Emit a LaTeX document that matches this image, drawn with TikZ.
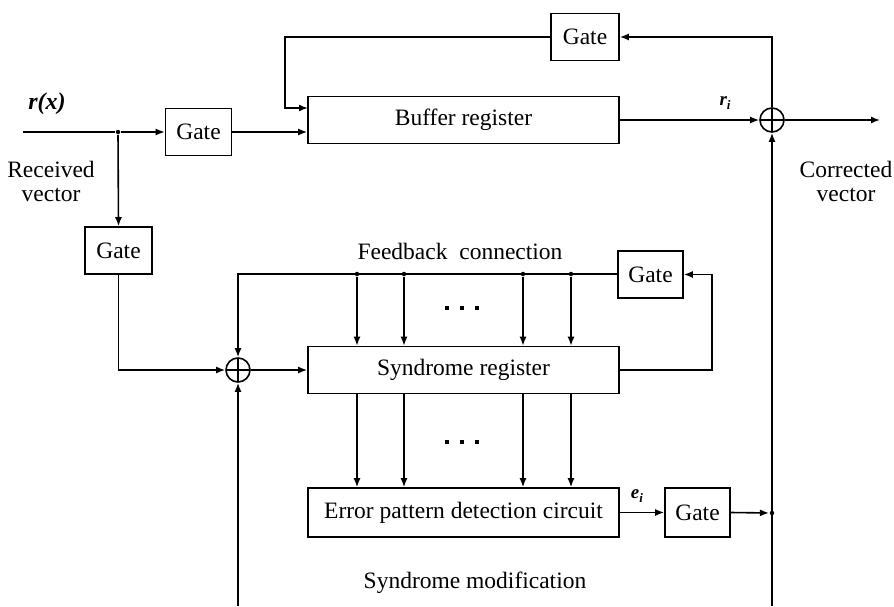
\documentclass[tikz,border=0pt]{standalone}
\usepackage{fontspec}
\setmainfont{Liberation Serif}
\usetikzlibrary{arrows.meta}
\begin{document}
\begin{tikzpicture}[x=1pt,y=-1pt,
  font=\fontsize{23.5}{27}\selectfont,
  line width=1.6pt,
  >={Latex[length=9pt,width=7pt]},
  box/.style={draw,rectangle,inner sep=0pt,minimum height=47pt},
  gatebox/.style={box,minimum width=66pt},
  regbox/.style={box,minimum width=311pt},
  adder/.style={draw,circle,minimum size=24pt,inner sep=0pt,
    path picture={\draw[line width=1.3pt]
      (path picture bounding box.north) -- (path picture bounding box.south)
      (path picture bounding box.west) -- (path picture bounding box.east);}},
  joint/.style={circle,fill,inner sep=0pt,minimum size=4.5pt},
  lbl/.style={inner sep=1pt},
  sym/.style={font=\fontsize{24}{26}\selectfont\bfseries\itshape},
  subsym/.style={font=\fontsize{19}{22}\selectfont\bfseries\itshape}]
\useasboundingbox (0,0) rectangle (894,606);

% blocks
\node[gatebox] (gin)  at (198.5,132) {Gate};
\node[regbox]  (buf)  at (463.5,120) {Buffer register};
\node[gatebox,minimum width=68pt] (gtop) at (585,37) {Gate};
\node[adder]   (xa)   at (772,120) {};
\node[gatebox,minimum width=67pt] (gl) at (118.5,250.5) {Gate};
\node[adder]   (xb)   at (238,370) {};
\node[regbox]  (syn)  at (463.5,370) {Syndrome register};
\node[gatebox,minimum width=65pt] (gf) at (650.5,274.5) {Gate};
\node[regbox,minimum height=49pt] (err) at (463.5,512.5) {Error pattern detection circuit};
\node[gatebox,minimum width=65pt,minimum height=49pt] (ge) at (697.5,512.5) {Gate};

% free ends and joints
\coordinate (in) at (23,132);
\node[joint] (j1) at (118,132) {};
\coordinate (out) at (880,120);
\coordinate (topl) at (285,37);
\coordinate (bufin) at (308,108);
\coordinate (fbl) at (238,274);
\coordinate (synr) at (712,370);
\node[joint] (je) at (772,513) {};
\coordinate (botA) at (772,606);
\coordinate (botB) at (238,606);

% labels
\node[sym] (rx) at (47,104) {r(x)};
\node[align=center,lbl] (recv) at (51,181) {Received\\[-3pt]vector};
\node[align=center,lbl] (corr) at (846,181) {Corrected\\[-3pt]vector};
\node[lbl] (fbtxt) at (460,251) {Feedback\ \ connection};
\node[lbl] (smtxt) at (475,583) {Syndrome modification};
\node[subsym] (ri) at (725,103) {r\raisebox{-4pt}{\fontsize{13}{13}\selectfont i}};
\node[subsym] (ei) at (637,496) {e\raisebox{-4pt}{\fontsize{13}{13}\selectfont i}};

% upper path
\draw (in) -- (j1);
\draw[->] (j1) -- (gin.west);
\draw[->] (j1) -- (gl.north);
\draw[->] (gin.east) -- (gin.east -| buf.west);
\draw[->] (gtop.west) -- (topl) |- (bufin);
\draw[->] (xa.north) |- (gtop.east);
\draw[->] (buf.east |- xa) -- (xa.west);
\draw[->] (xa.east) -- (out);
\draw[->] (botA) -- (xa.south);

% syndrome path
\draw[->] (gl.south) |- (xb.west);
\draw[->] (xb.east) -- (syn.west |- xb);
\draw[->] (gf.west |- fbl) -- (fbl) -- (xb.north);
\draw[->] (syn.east) -- (synr) |- (gf.east);
\draw[->] (botB) -- (xb.south);

% feedback taps and syndrome outputs
\foreach \t/\xx in {a/357,b/404,c/523,d/571}{
  \node[joint] (tap\t) at (\xx,274) {};
  \draw[->] (tap\t) -- (tap\t |- syn.north);
  \draw[->] (tap\t |- syn.south) -- (tap\t |- err.north);
}
\foreach \t/\yy in {u/308,l/442}{
  \node[inner sep=0pt] (dots\t) at (462,\yy) {%
    \tikz[x=1pt,y=1pt]{\foreach \k in {0,15,30}{\fill (\k-2.2,-2.2) rectangle (\k+2.2,2.2);}}};
}

% error pattern output
\draw[->] (err.east) -- (ge.west);
\draw[->] (ge.east) -- (je);
\end{tikzpicture}
\end{document}
